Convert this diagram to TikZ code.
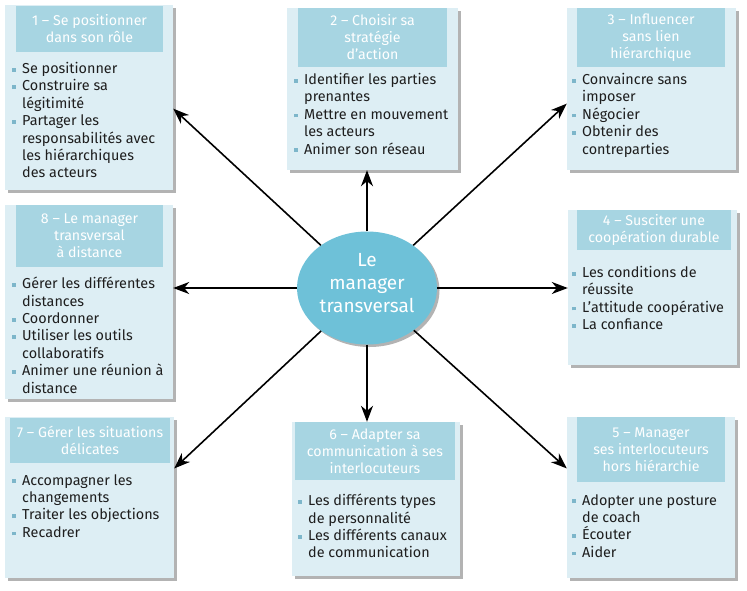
\documentclass[tikz,border=0pt]{standalone}
\usepackage{fontspec}
\setmainfont{Fira Sans}
\usetikzlibrary{shapes.geometric,shadows,calc,arrows.meta}
\definecolor{fond}{HTML}{DDEEF4}
\definecolor{bandeau}{HTML}{A7D5E2}
\definecolor{centre}{HTML}{6EC1D8}
\definecolor{puce}{HTML}{7DB6CA}
\definecolor{texte}{HTML}{1E1E1E}
\newcommand{\puce}{\makebox[10pt][l]{\textcolor{puce}{\rule[1.8pt]{3.8pt}{3.8pt}}}}
\newcommand{\suite}{\hspace*{10pt}}
\begin{document}
\begin{tikzpicture}[x=1pt,y=-1pt,
    box/.style={rectangle, fill=fond, inner sep=0pt,
      drop shadow={shadow xshift=2.5pt, shadow yshift=-2.5pt, opacity=0.6}},
    band/.style={rectangle, fill=bandeau, inner sep=0pt, text=white,
      align=center, font=\fontsize{14.2}{17}\selectfont},
    items/.style={anchor=north west, inner sep=0pt, align=left, text=texte,
      font=\fontsize{14.4}{17.4}\selectfont},
    fleche/.style={-{Stealth[length=16pt,width=12pt,inset=5pt]}, line width=1.6pt}]
  \useasboundingbox (0,0) rectangle (747,590);
  % boites
  \node[box, minimum width=168pt, minimum height=185pt] (1) at (89,97.5) {};
  \node[box, minimum width=171pt, minimum height=162pt] (2) at (372.5,89) {};
  \node[box, minimum width=169pt, minimum height=162pt] (3) at (651.5,89) {};
  \node[box, minimum width=169pt, minimum height=155pt] (4) at (652.5,287.5) {};
  \node[box, minimum width=168pt, minimum height=161pt] (5) at (651,497.5) {};
  \node[box, minimum width=168pt, minimum height=154pt] (6) at (376,499) {};
  \node[box, minimum width=169pt, minimum height=161pt] (7) at (89.5,497.5) {};
  \node[box, minimum width=168pt, minimum height=194pt] (8) at (89,302) {};
  % bandeaux
  \node[band, minimum width=147pt, minimum height=46pt] (t1) at (89.5,29) {1 – Se positionner\\dans son rôle};
  \node[band, minimum width=149pt, minimum height=59pt] (t2) at (372.5,37.5) {2 – Choisir sa\\stratégie\\d’action};
  \node[band, minimum width=148pt, minimum height=59pt] (t3) at (651,37.5) {3 – Influencer\\sans lien\\hiérarchique};
  \node[band, minimum width=154pt, minimum height=40pt] (t4) at (654,230) {4 – Susciter une\\coopération durable};
  \node[band, minimum width=148pt, minimum height=65pt] (t5) at (651,449.5) {5 – Manager\\ses interlocuteurs\\hors hiérarchie};
  \node[band, minimum width=160pt, minimum height=58pt] (t6) at (375,451) {6 – Adapter sa\\communication à ses\\interlocuteurs};
  \node[band, minimum width=160pt, minimum height=45pt] (t7) at (90,440.5) {7 – Gérer les situations\\délicates};
  \node[band, minimum width=147pt, minimum height=62pt] (t8) at (89.5,236) {8 – Le manager\\transversal\\à distance};
  % listes
  \node[items] (l1) at (12,62) {\puce Se positionner\\\puce Construire sa\\\suite légitimité\\\puce Partager les\\\suite responsabilités avec\\\suite les hiérarchiques\\\suite des acteurs};
  \node[items] (l2) at (294,73) {\puce Identifier les parties\\\suite prenantes\\\puce Mettre en mouvement\\\suite les acteurs\\\puce Animer son réseau};
  \node[items] (l3) at (572,73) {\puce Convaincre sans\\\suite imposer\\\puce Négocier\\\puce Obtenir des\\\suite contreparties};
  \node[items] (l4) at (572,266) {\puce Les conditions de\\\suite réussite\\\puce L’attitude coopérative\\\puce La confiance};
  \node[items] (l5) at (572,494) {\puce Adopter une posture\\\suite de coach\\\puce Écouter\\\puce Aider};
  \node[items] (l6) at (298,494) {\puce Les différents types\\\suite de personnalité\\\puce Les différents canaux\\\suite de communication};
  \node[items] (l7) at (12,474) {\puce Accompagner les\\\suite changements\\\puce Traiter les objections\\\puce Recadrer};
  \node[items] (l8) at (12,277) {\puce Gérer les différentes\\\suite distances\\\puce Coordonner\\\puce Utiliser les outils\\\suite collaboratifs\\\puce Animer une réunion à\\\suite distance};
  % centre
  \node[ellipse, fill=centre, minimum width=140pt, minimum height=113pt, inner sep=0pt,
    drop shadow={shadow xshift=2.5pt, shadow yshift=-2.5pt, opacity=0.6}] (m) at (367,288) {};
  \node[text=white, align=center, inner sep=0pt, font=\fontsize{19}{23}\selectfont]
    (mt) at ([yshift=5pt]m.center) {Le\\manager\\transversal};
  \begin{scope}[fleche]
    \draw (m) to ($(1.north east)!0.56!(1.south east)$);
    \draw (m) to (2.south -| m);
    \draw (m) to ($(3.north west)!0.59!(3.south west)$);
    \draw (m) to (4.west |- m);
    \draw (m) to ($(5.north west)!0.32!(5.south west)$);
    \draw (m) to (6.north -| m);
    \draw (m) to ($(7.north east)!0.32!(7.south east)$);
    \draw (m) to (8.east |- m);
  \end{scope}
\end{tikzpicture}
\end{document}
